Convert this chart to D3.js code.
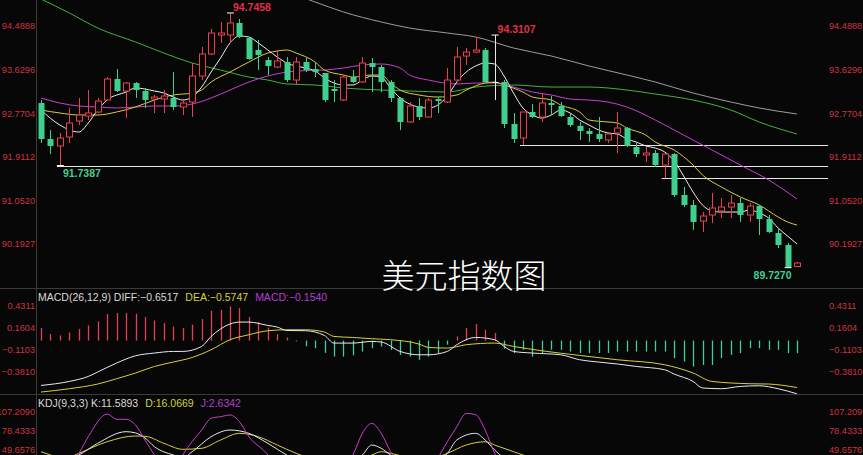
<!DOCTYPE html>
<html><head><meta charset="utf-8">
<script src="https://cdn.jsdelivr.net/npm/d3@7"></script>
<style>html,body{margin:0;padding:0;background:#070707;overflow:hidden}</style>
</head><body>
<svg id="c" width="863" height="455"></svg>
<script>
// ---------- DATA ----------
const opens  = [92.971,92.262,92.124,92.301,92.616,92.715,92.794,93.030,93.444,93.208,93.365,93.208,93.050,93.050,93.070,92.892,92.991,93.503,93.937,94.311,94.311,94.548,94.252,94.016,93.819,93.681,93.779,93.424,93.779,93.641,93.562,93.247,93.030,93.483,93.385,93.759,93.681,93.385,93.070,92.597,92.912,92.695,93.050,92.991,93.424,93.897,93.976,94.016,93.385,93.385,92.557,92.281,92.794,92.695,92.971,92.912,92.695,92.518,92.419,92.360,92.242,92.380,92.478,92.104,91.946,91.986,91.749,91.966,91.158,90.961,90.646,90.764,90.843,90.921,91.000,90.764,90.941,90.685,90.409,90.173,89.750];
const highs  = [93.030,92.439,92.380,92.873,93.070,93.227,93.070,93.483,93.641,93.385,93.385,93.267,93.129,93.227,93.582,93.030,93.759,94.075,94.430,94.567,94.7458,94.627,94.272,94.213,93.878,94.016,93.878,93.878,93.878,93.759,93.562,93.424,93.523,93.621,93.878,93.858,93.720,93.424,93.089,92.991,93.070,93.070,93.089,93.661,94.075,94.055,94.272,94.055,94.3107,93.424,92.774,92.794,92.951,93.168,93.109,92.991,92.774,92.597,92.478,92.695,92.400,92.794,92.498,92.183,92.104,92.045,91.986,91.986,91.316,91.059,90.823,91.197,91.099,91.158,91.099,91.000,90.961,90.764,90.508,90.212,89.838];
const lows   = [92.183,91.966,91.7387,92.183,92.537,92.636,92.774,93.030,93.188,92.675,93.070,92.873,92.774,92.774,92.833,92.735,92.695,93.424,93.917,94.154,94.154,94.252,93.819,93.621,93.523,93.661,93.385,93.326,93.582,93.483,92.991,92.991,93.010,93.365,93.365,93.188,93.188,92.991,92.439,92.577,92.636,92.695,92.774,92.971,93.385,93.720,93.956,93.365,93.030,92.478,92.183,92.143,92.675,92.597,92.735,92.695,92.498,92.242,92.202,92.202,92.183,91.986,92.104,91.907,91.808,91.710,91.493,91.119,90.921,90.468,90.429,90.606,90.705,90.705,90.626,90.626,90.370,90.409,90.113,89.727,89.740];
const closes = [92.262,92.124,92.281,92.577,92.735,92.774,93.010,93.444,93.208,93.365,93.227,93.030,93.089,93.109,92.892,92.971,93.503,93.937,94.351,94.351,94.548,94.272,93.838,93.917,93.700,93.799,93.424,93.779,93.621,93.582,93.030,93.208,93.483,93.385,93.759,93.681,93.385,93.070,92.597,92.912,92.695,93.030,93.010,93.424,93.878,93.976,94.016,93.385,93.385,92.557,92.262,92.794,92.695,92.971,92.932,92.715,92.537,92.419,92.360,92.262,92.360,92.478,92.124,91.966,91.986,91.749,91.966,91.158,90.961,90.626,90.744,90.902,90.921,91.000,90.764,90.941,90.685,90.429,90.173,89.739,89.818];

// moving averages: [candle index, value]
const ma5 = [[0,92.833],[2,92.537],[4,92.400],[5,92.577],[6,92.833],[7,93.030],[9,93.188],[10,93.267],[12,93.208],[13,93.168],[14,93.089],[15,93.030],[16,93.089],[17,93.286],[18,93.582],[19,93.858],[20,94.154],[21,94.292],[22,94.272],[23,94.154],[24,94.016],[25,93.878],[26,93.759],[27,93.700],[28,93.661],[29,93.602],[30,93.464],[31,93.365],[32,93.326],[33,93.326],[34,93.424],[35,93.503],[36,93.483],[37,93.267],[38,93.070],[39,92.951],[40,92.892],[41,92.873],[42,92.932],[43,93.109],[44,93.385],[45,93.582],[46,93.700],[47,93.759],[48,93.740],[49,93.503],[50,93.168],[51,92.873],[52,92.735],[53,92.675],[54,92.735],[55,92.833],[56,92.774],[57,92.636],[58,92.537],[59,92.439],[60,92.380],[61,92.360],[62,92.262],[63,92.202],[64,92.124],[65,92.084],[66,92.006],[67,91.828],[68,91.533],[69,91.217],[70,90.961],[71,90.843],[72,90.823],[73,90.823],[74,90.823],[75,90.863],[76,90.804],[77,90.705],[78,90.508],[79,90.350],[80,90.193]];
const ma10 = [[0,92.833],[2,92.774],[4,92.735],[6,92.735],[8,92.794],[10,92.892],[12,93.030],[14,93.129],[16,93.168],[17,93.227],[18,93.385],[20,93.582],[22,93.779],[24,93.956],[25,93.996],[26,94.016],[27,93.956],[29,93.779],[30,93.621],[32,93.523],[33,93.483],[35,93.523],[36,93.523],[37,93.365],[38,93.227],[40,93.129],[42,93.089],[44,93.129],[45,93.227],[47,93.365],[48,93.385],[49,93.326],[51,93.188],[52,93.089],[54,93.030],[55,92.932],[57,92.794],[58,92.636],[60,92.597],[61,92.577],[62,92.478],[64,92.340],[65,92.202],[67,92.045],[69,91.749],[70,91.552],[72,91.316],[74,91.119],[76,90.961],[78,90.725],[79,90.626],[80,90.567]];
const ma20 = [[0,93.070],[2,92.971],[4,92.912],[6,92.892],[8,92.873],[10,92.892],[12,92.912],[14,92.912],[16,92.951],[18,93.070],[20,93.227],[22,93.385],[24,93.503],[26,93.582],[27,93.602],[30,93.621],[32,93.661],[34,93.720],[36,93.740],[38,93.661],[39,93.523],[41,93.424],[44,93.346],[46,93.365],[48,93.365],[50,93.286],[52,93.188],[54,93.129],[56,93.050],[58,93.030],[60,92.990],[62,92.892],[65,92.636],[68,92.340],[71,92.045],[74,91.749],[77,91.454],[80,91.079]];
const ma60 = [[0,95.020],[3,94.745],[6,94.449],[10,94.174],[13,93.956],[16,93.759],[19,93.621],[22,93.483],[24,93.424],[26,93.346],[29,93.326],[32,93.267],[36,93.227],[39,93.208],[43,93.188],[46,93.286],[50,93.326],[54,93.286],[58,93.286],[62,93.227],[65,93.148],[69,93.030],[73,92.833],[76,92.597],[80,92.360]];
const ma120 = [[24,95.250],[26,95.159],[29,94.962],[32,94.765],[36,94.568],[39,94.449],[43,94.351],[46,94.272],[50,94.055],[54,93.897],[58,93.700],[62,93.523],[65,93.385],[69,93.168],[73,92.991],[76,92.873],[80,92.755]];
const supportIdx = [2, 51, 66];

// MACD
const macdHist = [0.153,0.079,0.062,0.099,0.14,0.185,0.234,0.324,0.336,0.336,0.328,0.287,0.246,0.214,0.172,0.153,0.193,0.263,0.364,0.376,0.417,0.397,0.287,0.226,0.160,0.079,0.038,-0.01,-0.07,-0.094,-0.15,-0.196,-0.196,-0.18,-0.135,-0.094,-0.073,-0.114,-0.175,-0.196,-0.236,-0.196,-0.153,-0.05,0.05,0.153,0.2,0.132,0.092,-0.1,-0.153,-0.113,-0.196,-0.153,-0.113,-0.113,-0.135,-0.153,-0.153,-0.153,-0.153,-0.135,-0.135,-0.135,-0.135,-0.135,-0.135,-0.216,-0.257,-0.318,-0.298,-0.298,-0.216,-0.175,-0.153,-0.094,-0.094,-0.113,-0.113,-0.153,-0.154];
const diffLine = [[0,-0.549],[3,-0.500],[5,-0.439],[6,-0.385],[8,-0.275],[10,-0.186],[12,-0.153],[14,-0.133],[15,-0.133],[17,-0.072],[18,0.050],[20,0.202],[21,0.226],[22,0.226],[24,0.185],[25,0.165],[26,0.123],[28,0.120],[30,0.062],[31,-0.031],[33,-0.031],[35,-0.011],[36,-0.018],[38,-0.133],[40,-0.174],[41,-0.174],[43,-0.133],[44,-0.051],[46,0.038],[48,0.010],[49,-0.072],[50,-0.133],[52,-0.153],[55,-0.174],[57,-0.235],[59,-0.263],[61,-0.287],[63,-0.317],[66,-0.357],[67,-0.410],[69,-0.500],[70,-0.580],[72,-0.589],[74,-0.561],[76,-0.553],[78,-0.589],[80,-0.6517]];
const deaLine = [[0,-0.630],[3,-0.589],[6,-0.532],[8,-0.467],[10,-0.397],[12,-0.317],[14,-0.263],[16,-0.207],[18,-0.112],[20,0.010],[22,0.071],[24,0.120],[26,0.132],[28,0.132],[30,0.104],[31,0.050],[33,0.038],[35,0.022],[37,0.010],[40,-0.043],[41,-0.084],[43,-0.092],[45,-0.051],[48,-0.031],[50,-0.072],[53,-0.125],[57,-0.182],[61,-0.235],[66,-0.296],[69,-0.397],[71,-0.500],[75,-0.528],[77,-0.532],[80,-0.5747]];

// KDJ
const kLine = [[0,35],[2,32],[4,42.1],[6,59.8],[9,77.4],[10,75.5],[11,68],[12,54.7],[14,42.1],[15,38],[16,47.1],[18,69.8],[20,79.9],[22,74.9],[24,59.8],[26,42.1],[28,28],[30,22],[32,28],[34,42.1],[35,57.2],[36,52.2],[37,42.1],[39,28],[41,30],[43,44.6],[44,64.8],[46,74.9],[47,64.8],[48,49.7],[50,30],[53,25],[56,28],[60,30],[64,25],[68,15],[72,28],[76,30],[80,11.5893]];
const dLine = [[0,47.1],[1,42.1],[2,38],[3,39],[4,44.6],[7,62.2],[10,70.9],[11,70.5],[13,59.8],[15,50.7],[17,52.2],[19,64.8],[21,74.9],[23,69.8],[25,57.2],[27,44.6],[29,35],[31,30],[33,33],[35,42],[36,47.1],[37,44.6],[39,38],[41,35],[43,44.6],[45,57.2],[47,62.2],[48,57.2],[50,47.1],[52,38],[56,32],[60,30],[64,28],[68,22],[72,25],[76,28],[80,16.0669]];
const jLine = [[0,30],[2,20],[4,44.7],[5,69.8],[7,104.2],[8,96.2],[9,96.2],[10,87.5],[11,64.8],[12,42.1],[13,18],[14,15],[15,42],[17,79.9],[18,97.7],[19,100.1],[20,102.7],[21,92.5],[22,69.8],[24,42.1],[25,20],[27,5],[29,0],[31,10],[32,25],[33,42.1],[34,74.9],[35,90.1],[36,74.9],[37,47.1],[38,25],[40,10],[41,20],[42,38],[43,62],[44,84.9],[45,105.2],[46,103],[47,79.9],[48,44.6],[49,20],[51,10],[54,20],[57,15],[60,25],[63,10],[66,20],[69,0],[72,25],[75,35],[78,15],[80,2.6342]];

// tick labels
const priceTicks = [94.4888, 93.6296, 92.7704, 91.9112, 91.0520, 90.1927];
const macdTicks = [0.4311, 0.1604, -0.1103, -0.3810];
const kdjTicks = [107.2090, 78.4333, 49.6576];
const titleText = "美元指数图";

// ---------- DRAW ----------
const BG = "#070707", RED = "#e8404f", GRN = "#3fd08f", LBL = "#cf3340";
const svg = d3.select("#c");
svg.append("rect").attr("width",863).attr("height",455).attr("fill",BG);
const x = d3.scaleLinear().domain([0, 80]).range([41, 797]);
const y = d3.scaleLinear().domain([90.1927, 94.4888]).range([244, 26]);
const yM = d3.scaleLinear().domain([-0.3810, 0.4311]).range([371.7, 305.3]);
const yK = d3.scaleLinear().domain([49.6576, 107.2090]).range([450, 412]);

const defs = svg.append("defs");
[["cMain",37,0,792,287],["cMacd",37,290,792,104],["cKdj",37,396,792,59]].forEach(c=>{
  defs.append("clipPath").attr("id",c[0]).append("rect").attr("x",c[1]).attr("y",c[2]).attr("width",c[3]).attr("height",c[4]);
});

// frame lines
svg.append("line").attr("x1",36.5).attr("x2",36.5).attr("y1",0).attr("y2",455).attr("stroke","#3a3a3a");
svg.append("line").attr("x1",0).attr("x2",863).attr("y1",288.5).attr("y2",288.5).attr("stroke","#3a3a3a");
svg.append("line").attr("x1",0).attr("x2",863).attr("y1",394.5).attr("y2",394.5).attr("stroke","#3a3a3a");

// axes
const axFont = "'Liberation Sans',Arial,sans-serif";
function axes(scale, ticks){
  const gl = svg.append("g").attr("transform","translate(35,0)")
    .call(d3.axisLeft(scale).tickValues(ticks).tickSize(0).tickPadding(0).tickFormat(d3.format(".4f")));
  const gr = svg.append("g").attr("transform","translate(828,0)")
    .call(d3.axisRight(scale).tickValues(ticks).tickSize(0).tickPadding(1).tickFormat(d3.format(".4f")));
  [gl,gr].forEach(g=>{
    g.select(".domain").remove();
    g.selectAll("text").attr("fill",LBL).style("font-family",axFont).style("font-size","9.2px");
  });
}
axes(y, priceTicks); axes(yM, macdTicks); axes(yK, kdjTicks);

// main panel
const gm = svg.append("g").attr("clip-path","url(#cMain)");
const idx = d3.range(opens.length);
const isUp = i => closes[i] > opens[i];
const col = i => closes[i] > opens[i] ? RED : (closes[i] < opens[i] ? GRN : "#e8e8e8");

// support lines
gm.selectAll("line.sup").data(supportIdx).join("line").attr("class","sup")
  .attr("x1",i=>x(i)-3).attr("x2",828).attr("y1",i=>Math.round(y(lows[i]))+0.5).attr("y2",i=>Math.round(y(lows[i]))+0.5)
  .attr("stroke","#e6e6e6").attr("stroke-width",1);

const maLine = d3.line().x(d=>x(d[0])).y(d=>y(d[1])).curve(d3.curveMonotoneX);
[[ma120,"#9c9c9c"],[ma60,"#46b03c"],[ma20,"#c73fd0"],[ma10,"#d7cd3a"],[ma5,"#eeeeee"]].forEach(([d,c])=>{
  gm.append("path").attr("d",maLine(d)).attr("fill","none").attr("stroke",c).attr("stroke-width",1);
});

gm.selectAll("line.wick").data(idx).join("line").attr("class","wick")
  .attr("x1",i=>Math.round(x(i))+0.5).attr("x2",i=>Math.round(x(i))+0.5)
  .attr("y1",i=>y(highs[i])).attr("y2",i=>y(lows[i])).attr("stroke",col).attr("stroke-width",1);
gm.selectAll("rect.body").data(idx).join("rect").attr("class","body")
  .attr("x",i=>Math.round(x(i))-2.5).attr("width",6)
  .attr("y",i=>y(Math.max(opens[i],closes[i])))
  .attr("height",i=>Math.max(1,Math.abs(y(opens[i])-y(closes[i]))))
  .attr("fill",i=>isUp(i)?BG:col(i))
  .attr("stroke",i=>isUp(i)?RED:"none").attr("stroke-width",1);

// extreme markers and labels
const hiIdx = [d3.maxIndex(highs), 48];
const loIdx = [2, d3.minIndex(lows)];
const lblFont = "'Liberation Sans',Arial,sans-serif";
hiIdx.forEach(i=>{
  gm.append("line").attr("x1",x(i)-3).attr("x2",x(i)+4).attr("y1",y(highs[i])).attr("y2",y(highs[i])).attr("stroke","#fff");
  svg.append("text").attr("x",x(i)+3).attr("y",y(highs[i])-2).text(d3.format(".4f")(highs[i]))
    .attr("fill","#e03048").style("font-family",lblFont).style("font-size","10.5px").style("font-weight","600");
});
loIdx.forEach((i,k)=>{
  gm.append("line").attr("x1",x(i)-3).attr("x2",x(i)+4).attr("y1",y(lows[i])).attr("y2",y(lows[i])).attr("stroke","#fff");
  svg.append("text").attr("x",k===0?x(i)+3:x(i)+4).attr("y",y(lows[i])+11)
    .attr("text-anchor",k===0?"start":"end").text(d3.format(".4f")(lows[i]))
    .attr("fill",GRN).style("font-family",lblFont).style("font-size","10.5px").style("font-weight","600");
});

// MACD panel
const gmc = svg.append("g").attr("clip-path","url(#cMacd)");
gmc.selectAll("line.bar").data(idx).join("line")
  .attr("x1",i=>Math.round(x(i))+0.5).attr("x2",i=>Math.round(x(i))+0.5)
  .attr("y1",yM(0)).attr("y2",i=>yM(macdHist[i]))
  .attr("stroke",i=>macdHist[i]>=0?RED:GRN).attr("stroke-width",1.3);
const mLine = d3.line().x(d=>x(d[0])).y(d=>yM(d[1])).curve(d3.curveMonotoneX);
gmc.append("path").attr("d",mLine(deaLine)).attr("fill","none").attr("stroke","#d7d03a").attr("stroke-width",1);
gmc.append("path").attr("d",mLine(diffLine)).attr("fill","none").attr("stroke","#e8e8f0").attr("stroke-width",1);

function legend(yy, parts){
  const t = svg.append("text").attr("x",38).attr("y",yy).style("font-family",lblFont).style("font-size","10.5px");
  parts.forEach(([s,c],k)=>t.append("tspan").attr("dx",k?7:0).attr("fill",c).text(s));
}
legend(301, [["MACD(26,12,9) DIFF:"+d3.format(".4f")(diffLine[diffLine.length-1][1]),"#d8d8d8"],
             ["DEA:"+d3.format(".4f")(deaLine[deaLine.length-1][1]),"#d7d03a"],
             ["MACD:"+d3.format(".4f")(macdHist[macdHist.length-1]),"#b43fd0"]]);

// KDJ panel
const gk = svg.append("g").attr("clip-path","url(#cKdj)");
const kLn = d3.line().x(d=>x(d[0])).y(d=>yK(d[1])).curve(d3.curveMonotoneX);
gk.append("path").attr("d",kLn(dLine)).attr("fill","none").attr("stroke","#d7d03a");
gk.append("path").attr("d",kLn(kLine)).attr("fill","none").attr("stroke","#e8e8f0");
gk.append("path").attr("d",kLn(jLine)).attr("fill","none").attr("stroke","#c73fd0");
legend(407, [["KDJ(9,3,3) K:"+d3.format(".4f")(kLine[kLine.length-1][1]),"#d8d8d8"],
             ["D:"+d3.format(".4f")(dLine[dLine.length-1][1]),"#d7d03a"],
             ["J:"+d3.format(".4f")(jLine[jLine.length-1][1]),"#b43fd0"]]);

// title
svg.append("text").attr("x",464).attr("y",288).attr("text-anchor","middle")
  .style("font-family","'Noto Sans CJK SC',sans-serif").style("font-size","33px").style("font-weight","300")
  .attr("fill","#ffffff").text(titleText);
</script>
</body></html>
